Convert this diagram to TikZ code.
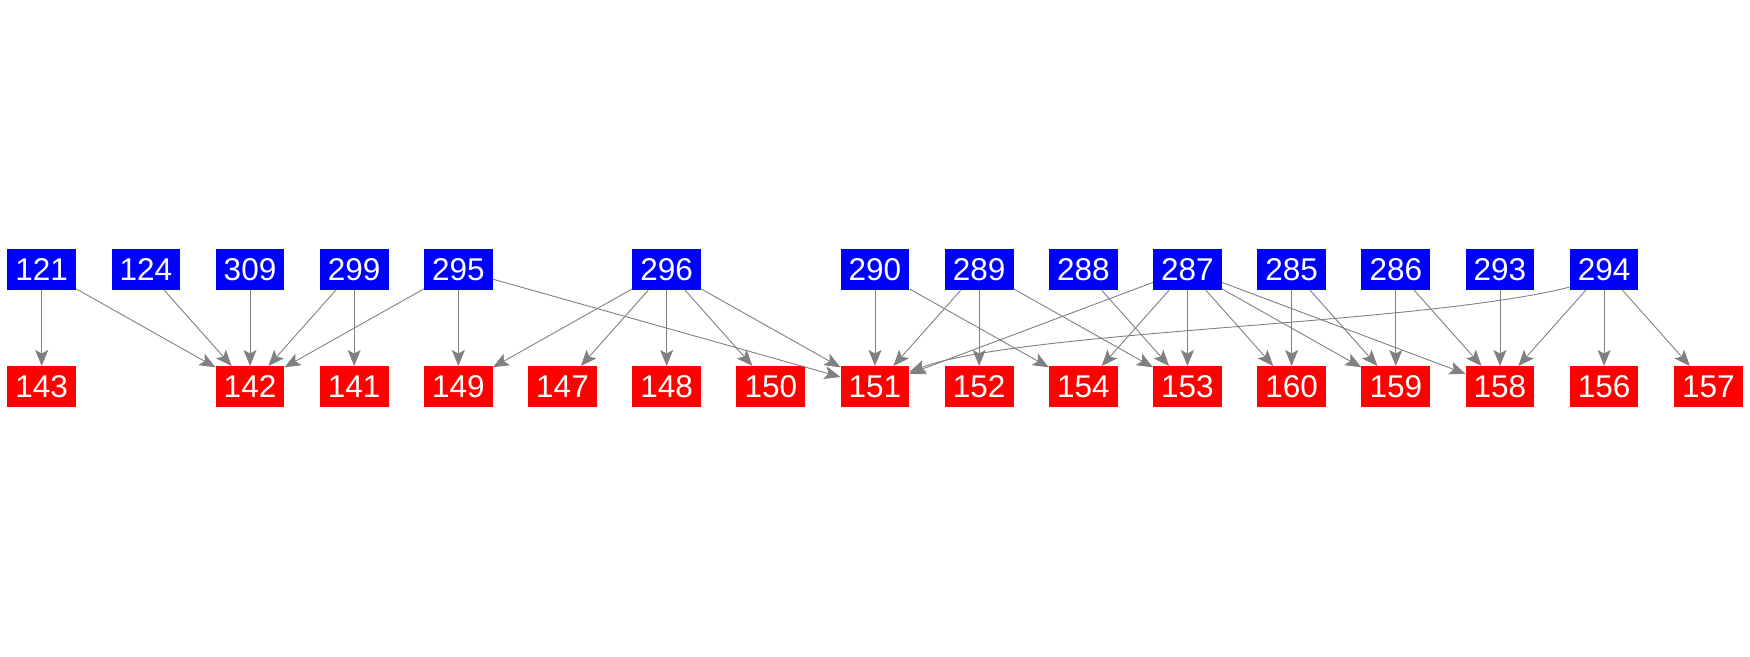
\documentclass[tikz,border=0pt]{standalone}
\usepackage{fontspec}
\setmainfont{Liberation Sans}
\usetikzlibrary{arrows.meta}
\definecolor{edgegray}{RGB}{128,128,128}
\definecolor{topblue}{RGB}{0,0,255}
\definecolor{botred}{RGB}{255,0,0}
\tikzset{
  vbox/.style={rectangle, inner sep=0pt, minimum width=68.7pt, minimum height=41pt,
    text=white, font=\fontsize{31.5}{35}\selectfont},
  topbox/.style={vbox, fill=topblue},
  botbox/.style={vbox, fill=botred},
  edge/.style={draw=edgegray, line width=0.9pt,
    -{Stealth[length=16pt, width=13pt, inset=3.5pt]}}
}
\begin{document}
\begin{tikzpicture}[x=1pt, y=-1pt]
\useasboundingbox (0,0) rectangle (1750,656);
\foreach \n/\i in {121/0,124/1,309/2,299/3,295/4,296/6,290/8,289/9,288/10,287/11,285/12,286/13,293/14,294/15}
  \node[topbox] (t\n) at ({41.7+104.16*\i},269.5) {\n};
\foreach \n/\i in {143/0,142/2,141/3,149/4,147/5,148/6,150/7,151/8,152/9,154/10,153/11,160/12,159/13,158/14,156/15,157/16}
  \node[botbox] (b\n) at ({41.7+104.16*\i},386.7) {\n};
\foreach \s/\t in {121/143,121/142,124/142,309/142,299/142,299/141,295/142,295/149,295/151,
  296/149,296/147,296/148,296/150,296/151,290/151,290/154,289/151,289/152,289/153,288/153,
  287/151,287/154,287/153,287/160,287/159,287/158,285/160,285/159,286/159,286/158,293/158,
  294/158,294/156,294/157}
  \draw[edge] (t\s) -- (b\t);
\draw[edge] (t294.207) .. controls (1420,325) and (1020,330) .. (b151.23);
\end{tikzpicture}
\end{document}
